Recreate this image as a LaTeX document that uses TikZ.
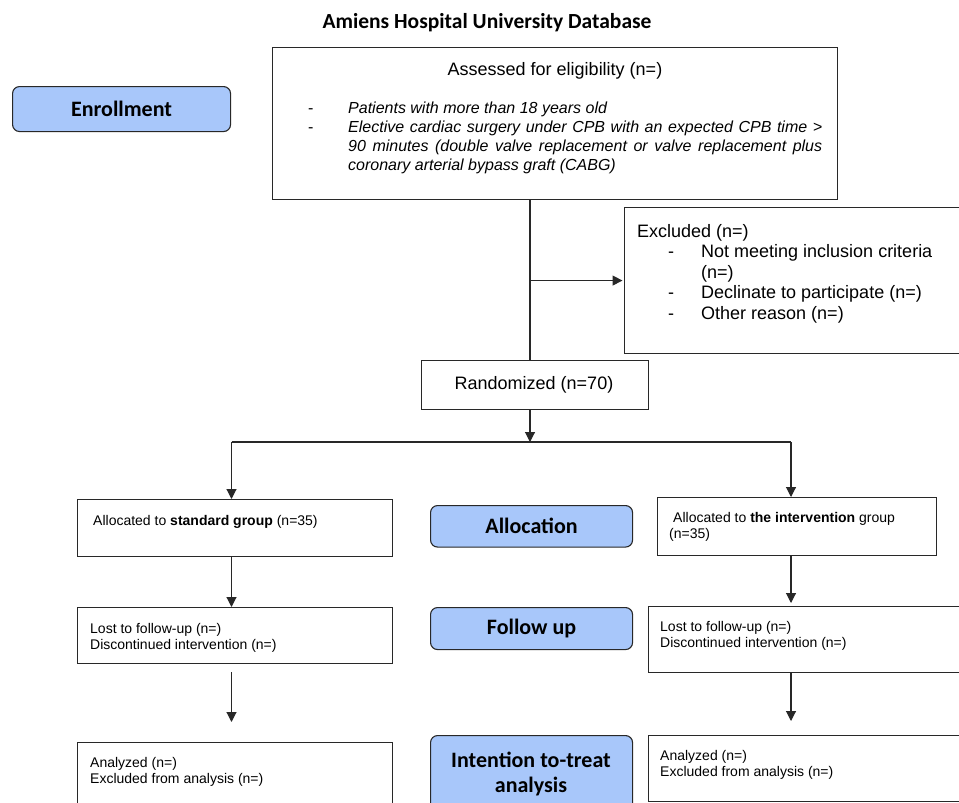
\documentclass[tikz,border=0pt]{standalone}
\usepackage{fontspec}
\setmainfont{Liberation Sans}
\newfontfamily\calfont{Carlito}
\usetikzlibrary{arrows.meta,calc}
\definecolor{phaseblue}{RGB}{168,199,250}
\definecolor{linegray}{RGB}{40,40,40}
\tikzset{
  box/.style={draw=linegray, line width=1.1pt, inner sep=0pt, anchor=north west, fill=white},
  phase/.style={draw=linegray, line width=1.1pt, fill=phaseblue, rounded corners=7pt, inner sep=0pt, anchor=north west},
  phasetxt/.style={font=\calfont\bfseries\fontsize{22}{25}\selectfont, align=center, inner sep=0pt},
  big/.style={font=\fontsize{18}{21}\selectfont, inner sep=0pt, anchor=base west},
  small/.style={font=\fontsize{14}{16}\selectfont, inner sep=0pt, anchor=base west},
  ital/.style={font=\fontsize{16}{19.3}\selectfont, inner sep=0pt, anchor=base west},
  conn/.style={draw=linegray, line width=1.1pt},
  arr/.style={conn, -{Triangle[length=10pt,width=10pt]}}
}
\begin{document}
\begin{tikzpicture}[x=1pt,y=-1pt]
\useasboundingbox (0,0) rectangle (959,803);
\clip (0,0) rectangle (959,803);
\fill[white] (0,0) rectangle (959,803);

% title
\node[inner sep=0pt, anchor=base, font=\calfont\bfseries\fontsize{21.5}{24}\selectfont] (title) at (487,28) {Amiens Hospital University Database};

% phase labels
\node[phase, minimum width=218pt, minimum height=45pt] (enr) at (12,86) {};
\node[phasetxt] (enrt) at (enr.center) {Enrollment};
\node[phase, minimum width=202pt, minimum height=41.5pt] (allo) at (430,505) {};
\node[phasetxt] (allot) at (allo.center) {Allocation};
\node[phase, minimum width=202pt, minimum height=42pt] (fu) at (430,607) {};
\node[phasetxt] (fut) at (fu.center) {Follow up};
\node[phase, minimum width=202pt, minimum height=110pt] (itt) at (430,735) {};
\node[phasetxt, anchor=base] (itt1) at (531,767) {Intention to-treat};
\node[phasetxt, anchor=base] (itt2) at (531,792) {analysis};

% assessed box
\node[box, minimum width=565pt, minimum height=152.5pt] (assess) at (272,46.5) {};
\node[big, anchor=base] (asst) at (555,75) {Assessed for eligibility (n=)};
\node[ital] (d1) at (308,113) {-};
\node[ital] (i1) at (348,113) {\itshape Patients with more than 18 years old};
\node[ital] (d2) at (308,132) {-};
\node[ital] (i2) at (348,132) {\parbox[t]{474pt}{\fontsize{16}{19.3}\selectfont\itshape\hyphenpenalty=10000
Elective cardiac surgery under CPB with an expected CPB time >\linebreak
90 minutes (double valve replacement or valve replacement plus\linebreak
coronary arterial bypass graft (CABG)}};

% excluded box
\node[box, minimum width=360pt, minimum height=146pt] (excl) at (624,207) {};
\node[big] (ex0) at (637,237) {Excluded (n=)};
\node[big] (exd1) at (668,257.5) {-};
\node[big] (ex1) at (701,257.5) {Not meeting inclusion criteria};
\node[big] (ex1b) at (701,278) {(n=)};
\node[big] (exd2) at (668,298.5) {-};
\node[big] (ex2) at (701,298.5) {Declinate to participate (n=)};
\node[big] (exd3) at (668,319) {-};
\node[big] (ex3) at (701,319) {Other reason (n=)};

% randomized
\node[box, minimum width=227pt, minimum height=49pt] (rand) at (421,359.5) {};
\node[big, anchor=base] (randt) at (534,389) {Randomized (n=70)};

% allocation boxes
\node[box, minimum width=314.5pt, minimum height=56.5pt] (alloL) at (77,499) {};
\node[small] (alloLt) at (93,525) {Allocated to \textbf{standard group} (n=35)};
\node[box, minimum width=279pt, minimum height=58pt] (alloR) at (657,497) {};
\node[small] (alloRt1) at (673,522) {Allocated to \textbf{the intervention} group};
\node[small] (alloRt2) at (669,538) {(n=35)};

% follow-up boxes
\node[box, minimum width=314.5pt, minimum height=56pt] (fuL) at (77,607) {};
\node[small] (fuL1) at (90,633) {Lost to follow-up (n=)};
\node[small] (fuL2) at (90,649) {Discontinued intervention (n=)};
\node[box, minimum width=340pt, minimum height=66pt] (fuR) at (648,605.5) {};
\node[small] (fuR1) at (660,631) {Lost to follow-up (n=)};
\node[small] (fuR2) at (660,647) {Discontinued intervention (n=)};

% analysis boxes
\node[box, minimum width=314.5pt, minimum height=100pt] (anL) at (77,742) {};
\node[small] (anL1) at (90,767) {Analyzed (n=)};
\node[small] (anL2) at (90,783) {Excluded from analysis (n=)};
\node[box, minimum width=340pt, minimum height=66pt] (anR) at (648,735) {};
\node[small] (anR1) at (660,760) {Analyzed (n=)};
\node[small] (anR2) at (660,776.5) {Excluded from analysis (n=)};

% connectors
\coordinate (cx) at (530,0);
\coordinate (split) at (530,442);
\coordinate (sl) at (231.5,442);
\coordinate (sr) at (791,442);
\draw[conn] (assess.south -| cx) -- (rand.north -| cx);
\draw[arr, shorten >=1.5pt] (excl.west -| cx) -- (excl.west);
\draw[arr] (rand.south -| cx) -- (split);
\draw[conn] (sl) -- (sr);
\draw[arr] (sl) -- (sl |- alloL.north);
\draw[arr] (sr) -- (sr |- alloR.north);
\draw[arr] (alloL.south -| sl) -- (fuL.north -| sl);
\draw[arr, shorten >=2.5pt] (alloR.south -| sr) -- (fuR.north -| sr);
\draw[arr, shorten <=8pt, shorten >=20pt] (fuL.south -| sl) -- (anL.north -| sl);
\draw[arr, shorten >=14pt] (fuR.south -| sr) -- (anR.north -| sr);
\end{tikzpicture}
\end{document}
